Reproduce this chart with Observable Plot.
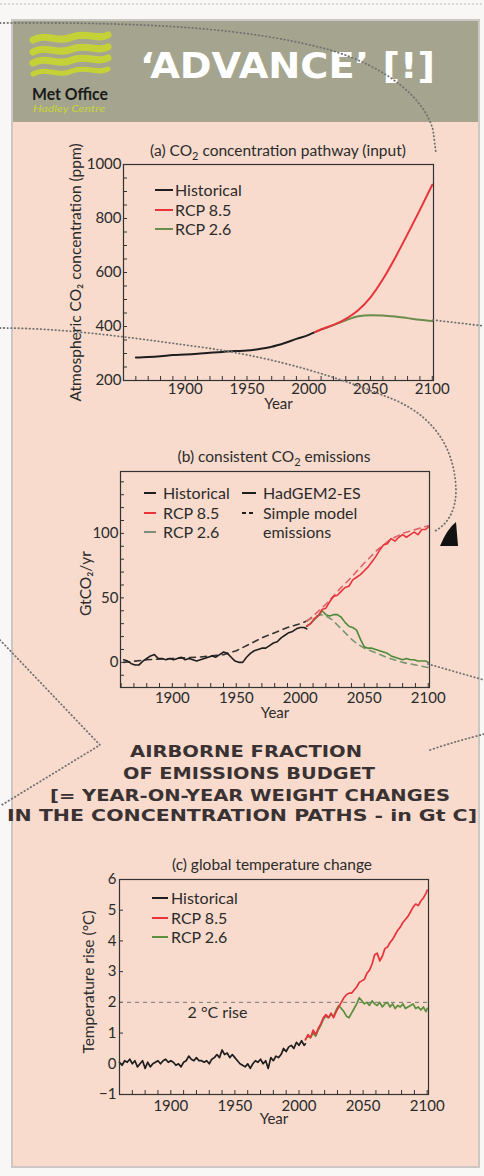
<!DOCTYPE html>
<html><head><meta charset="utf-8">
<script src="https://cdn.jsdelivr.net/npm/d3@7"></script>
<script src="https://cdn.jsdelivr.net/npm/@observablehq/plot@0.6"></script>
<style>
html,body{margin:0;padding:0;background:#f8f7f6;}
#page{position:relative;width:484px;height:1176px;overflow:hidden;font-family:Lato,"Open Sans",sans-serif;color:#2b2b2b;}
#panel{position:absolute;left:11px;top:19px;width:469px;height:1149px;box-sizing:border-box;background:#f8dbcd;border:2px solid #cbc7c3;}
#header{position:absolute;left:13px;top:21px;width:465px;height:101px;background:#a5a58f;}
.chart{position:absolute;}
#overlay{position:absolute;left:0;top:0;pointer-events:none;}
</style></head>
<body><div id="page"><div id="panel"></div><div id="header"></div>
<div id="chartA" class="chart" style="left:40px;top:150px"></div>
<div id="chartB" class="chart" style="left:40px;top:460px"></div>
<div id="chartC" class="chart" style="left:40px;top:870px"></div>
</div>
<script>
// ---------- data ----------
const xTickLabels = [1900, 1950, 2000, 2050, 2100];
const yTicksA = [200, 400, 600, 800, 1000];
const yTicksB = [0, 50, 100];
const yTicksC = [-1, 0, 1, 2, 3, 4, 5, 6];
const seriesNames = ["Historical", "RCP 8.5", "RCP 2.6"];
const legendB2 = ["HadGEM2-ES", "Simple model", "emissions"];
const twoDegreeThreshold = [2];
const twoDegreeLabel = "2 °C rise";

const co2Historical = [[1860,285],[1870,287],[1880,290],[1890,294],[1900,296],[1910,299],[1920,303],[1930,306],[1940,309],[1950,311],[1960,317],[1970,325],[1980,338],[1990,354],[2000,369],[2005,379]];
const co2Rcp85 = [[2005,379],[2010,389],[2020,406],[2030,428],[2040,460],[2050,508],[2060,575],[2070,655],[2080,742],[2090,832],[2100,925]];
const co2Rcp26 = [[2005,379],[2010,389],[2020,405],[2030,423],[2040,438],[2050,442],[2060,441],[2070,437],[2080,431],[2090,425],[2100,420]];

const emisHistorical = [[1862,2],[1865,1],[1868,-1],[1871,-2],[1874,-2],[1877,1],[1880,3],[1883,5],[1886,6],[1889,3],[1892,3],[1895,2],[1898,3],[1901,2],[1904,3],[1907,4],[1910,2],[1913,3],[1916,2],[1919,1],[1922,2],[1925,3],[1928,4],[1931,5],[1934,4],[1937,6],[1940,8],[1943,7],[1946,4],[1949,1],[1952,0],[1955,0],[1958,4],[1961,7],[1964,9],[1967,10],[1970,11],[1973,11],[1976,13],[1979,15],[1982,16],[1985,19],[1988,21],[1991,23],[1994,24],[1997,26],[2000,27],[2003,27],[2005,26]];
const emisRcp85 = [[2005,28],[2008,30],[2011,34],[2014,36],[2017,41],[2020,42],[2023,47],[2026,51],[2029,52],[2032,55],[2035,58],[2038,59],[2041,64],[2044,66],[2047,68],[2050,71],[2053,74],[2056,78],[2059,82],[2062,87],[2065,91],[2068,92],[2071,96],[2074,94],[2077,97],[2080,99],[2083,97],[2086,99],[2089,101],[2092,99],[2095,103],[2098,103],[2100,105]];
const emisRcp26 = [[2005,28],[2008,30],[2011,33],[2014,36],[2017,40],[2020,37],[2023,36],[2026,37],[2029,37],[2032,35],[2035,31],[2038,28],[2041,27],[2044,25],[2047,18],[2050,12],[2053,11],[2056,11],[2059,10],[2062,9],[2065,8],[2068,7],[2071,5],[2074,4],[2077,3],[2080,2],[2083,3],[2086,2],[2089,2],[2092,1],[2095,1],[2098,1],[2100,0]];
const simpleHistorical = [[1862,0],[1880,2],[1900,3],[1920,4],[1940,6],[1950,9],[1960,14],[1970,19],[1980,23],[1990,27],[2000,30],[2005,32]];
const simpleRcp85 = [[2005,32],[2010,36],[2020,45],[2030,56],[2040,66],[2050,77],[2060,87],[2070,95],[2080,100],[2090,103],[2100,106]];
const simpleRcp26 = [[2005,32],[2010,35],[2016,37],[2020,36],[2025,33],[2030,28],[2035,23],[2040,18],[2045,14],[2050,11],[2055,9],[2060,7],[2070,3],[2080,0],[2090,-2],[2100,-4]];

const tempHistorical = [[1860,0.05],[1862,-0.05],[1864,0.1],[1866,0.05],[1868,0.15],[1870,0.0],[1872,0.1],[1874,-0.1],[1876,0.0],[1878,0.1],[1880,-0.15],[1882,0.05],[1884,-0.1],[1886,0.0],[1888,0.05],[1890,0.1],[1892,0.0],[1894,0.1],[1896,0.15],[1898,0.05],[1900,0.1],[1902,0.05],[1904,-0.05],[1906,0.0],[1908,-0.1],[1910,0.05],[1912,0.1],[1914,0.25],[1916,0.15],[1918,0.1],[1920,0.2],[1922,0.1],[1924,0.1],[1926,0.05],[1928,0.1],[1930,0.0],[1932,0.15],[1934,0.2],[1936,0.3],[1938,0.2],[1940,0.45],[1942,0.3],[1944,0.35],[1946,0.2],[1948,0.3],[1950,0.2],[1952,0.1],[1954,0.0],[1956,-0.05],[1958,-0.1],[1960,0.0],[1962,-0.15],[1964,0.0],[1966,0.1],[1968,0.05],[1970,0.15],[1972,0.0],[1974,0.1],[1976,-0.15],[1978,0.2],[1980,0.1],[1982,0.25],[1984,0.2],[1986,0.3],[1988,0.5],[1990,0.4],[1992,0.55],[1994,0.6],[1996,0.5],[1998,0.7],[2000,0.6],[2002,0.75],[2004,0.6],[2005,0.65]];
const tempRcp85 = [[2005,0.78],[2007,0.95],[2009,0.85],[2011,1.1],[2013,0.95],[2015,1.15],[2017,1.3],[2019,1.5],[2021,1.6],[2023,1.5],[2025,1.65],[2027,1.5],[2029,1.7],[2031,1.85],[2033,2.0],[2035,2.15],[2037,2.25],[2039,2.3],[2041,2.3],[2043,2.4],[2045,2.5],[2047,2.65],[2049,2.7],[2051,2.75],[2053,2.95],[2055,3.05],[2057,3.25],[2059,3.55],[2061,3.6],[2063,3.35],[2065,3.5],[2067,3.75],[2069,3.8],[2071,3.95],[2073,4.05],[2075,4.2],[2077,4.35],[2079,4.45],[2081,4.6],[2083,4.7],[2085,4.8],[2087,4.95],[2089,5.1],[2091,5.2],[2093,5.15],[2095,5.3],[2097,5.4],[2099,5.55],[2100,5.65]];
const tempRcp26 = [[2005,0.8],[2007,0.9],[2009,0.85],[2011,1.0],[2013,0.9],[2015,1.1],[2017,1.25],[2019,1.45],[2021,1.55],[2023,1.5],[2025,1.6],[2027,1.55],[2029,1.75],[2031,1.9],[2033,1.8],[2035,1.7],[2037,1.55],[2039,1.5],[2041,1.65],[2043,1.8],[2045,1.95],[2047,2.15],[2049,2.05],[2051,1.95],[2053,2.0],[2055,1.9],[2057,2.05],[2059,1.95],[2061,1.9],[2063,2.0],[2065,1.85],[2067,1.95],[2069,2.0],[2071,1.85],[2073,1.95],[2075,1.8],[2077,1.9],[2079,1.85],[2081,1.95],[2083,1.8],[2085,1.85],[2087,1.9],[2089,1.95],[2091,1.8],[2093,1.85],[2095,1.75],[2097,1.85],[2099,1.7],[2100,1.8]];

// ---------- style ----------
const RED = "#e8333b", GREEN = "#5b8f3c", BLACK = "#1e1e1e", INK = "#2b2b2b";
const FONT = "Lato, 'Open Sans', sans-serif";

function frameTicks(xMinor, yMinor, innerW, innerH) {
  return [
    Plot.tickX(xMinor, {x: d => d, insetTop: innerH - 4, stroke: "#333", strokeWidth: 1}),
    Plot.tickY(yMinor, {y: d => d, insetRight: innerW - 4, stroke: "#333", strokeWidth: 1})
  ];
}
function line(data, stroke, extra = {}) {
  return Plot.line(data, {x: d => d[0], y: d => d[1], stroke, strokeWidth: 1.7, ...extra});
}
function yLabel(text, dx, dy) {
  return Plot.text([text], {frameAnchor: "left", textAnchor: "middle", lineAnchor: "middle", rotate: -90, dx, dy, fontSize: 15.5});
}
function xLabel(dy) {
  return Plot.text(["Year"], {frameAnchor: "bottom", textAnchor: "middle", lineAnchor: "middle", dy, fontSize: 15});
}
const fmt = d => String(d);

// ---------- chart (a) ----------
{
  const W = 420, H = 262, m = {l: 83, r: 27, t: 14, b: 32};
  const iw = W - m.l - m.r, ih = H - m.t - m.b;
  const p = Plot.plot({
    width: W, height: H, marginLeft: m.l, marginRight: m.r, marginTop: m.t, marginBottom: m.b,
    style: {background: "transparent", fontFamily: FONT, fontSize: "15px", color: INK, overflow: "visible"},
    x: {domain: [1850, 2101], ticks: xTickLabels, tickSize: 0, tickPadding: 3, tickFormat: fmt, label: null},
    y: {domain: [200, 1000], ticks: yTicksA, tickSize: 0, tickPadding: 2, tickFormat: fmt, label: null},
    marks: [
      ...frameTicks(d3.range(1860, 2101, 10), d3.range(200, 1001, 50), iw, ih),
      line(co2Historical, BLACK, {strokeWidth: 2, curve: "monotone-x"}),
      line(co2Rcp26, "#6b8c4c", {strokeWidth: 2, curve: "monotone-x"}),
      line(co2Rcp85, RED, {strokeWidth: 2, curve: "monotone-x"}),
      Plot.frame({stroke: "#333", strokeWidth: 1.2}),
      yLabel("Atmospheric CO₂ concentration (ppm)", -47, 0),
      xLabel(24)
    ]
  });
  document.getElementById("chartA").append(p);
}

// ---------- chart (b) ----------
{
  const W = 420, H = 260, m = {l: 80, r: 31, t: 11, b: 33};
  const iw = W - m.l - m.r, ih = H - m.t - m.b;
  const p = Plot.plot({
    width: W, height: H, marginLeft: m.l, marginRight: m.r, marginTop: m.t, marginBottom: m.b,
    style: {background: "transparent", fontFamily: FONT, fontSize: "15px", color: INK, overflow: "visible"},
    x: {domain: [1859.5, 2101], ticks: xTickLabels, tickSize: 0, tickPadding: 5, tickFormat: fmt, label: null},
    y: {domain: [-19.5, 148], ticks: yTicksB, tickSize: 0, tickPadding: 2, tickFormat: fmt, label: null},
    marks: [
      ...frameTicks(d3.range(1860, 2101, 10), d3.range(-10, 141, 10), iw, ih),
      line(simpleHistorical, "#333", {strokeDasharray: "6,5", strokeWidth: 1.6}),
      line(simpleRcp26, "#7a9474", {strokeDasharray: "6,5", strokeWidth: 1.6}),
      line(simpleRcp85, "#e0606a", {strokeDasharray: "6,5", strokeWidth: 1.6}),
      line(emisHistorical, BLACK, {strokeWidth: 1.6}),
      line(emisRcp26, "#4f8a3a", {strokeWidth: 1.6}),
      line(emisRcp85, RED, {strokeWidth: 1.6}),
      Plot.frame({stroke: "#333", strokeWidth: 1.2}),
      yLabel("GtCO₂/yr", -34, 4),
      xLabel(26)
    ]
  });
  document.getElementById("chartB").append(p);
}

// ---------- chart (c) ----------
{
  const W = 420, H = 260, m = {l: 79, r: 32, t: 9, b: 36};
  const iw = W - m.l - m.r, ih = H - m.t - m.b;
  const p = Plot.plot({
    width: W, height: H, marginLeft: m.l, marginRight: m.r, marginTop: m.t, marginBottom: m.b,
    style: {background: "transparent", fontFamily: FONT, fontSize: "15px", color: INK, overflow: "visible"},
    x: {domain: [1860, 2101], ticks: xTickLabels, tickSize: 0, tickPadding: 6, tickFormat: fmt, label: null},
    y: {domain: [-1, 6], ticks: yTicksC, tickSize: 0, tickPadding: 3, tickFormat: d => d < 0 ? "−" + Math.abs(d) : String(d), label: null},
    marks: [
      ...frameTicks(d3.range(1860, 2101, 10), yTicksC, iw, ih),
      Plot.ruleY(twoDegreeThreshold, {stroke: "#777", strokeDasharray: "4,4", strokeWidth: 1}),
      Plot.text(twoDegreeThreshold, {y: d => d, frameAnchor: "left", textAnchor: "middle", lineAnchor: "middle", dx: 98, dy: 11, text: () => twoDegreeLabel, fontSize: 16}),
      line(tempHistorical, BLACK, {strokeWidth: 1.7}),
      line(tempRcp26, GREEN, {strokeWidth: 1.7}),
      line(tempRcp85, RED, {strokeWidth: 1.7}),
      Plot.frame({stroke: "#333", strokeWidth: 1.2}),
      yLabel("Temperature rise (°C)", -30, -5),
      xLabel(25)
    ]
  });
  document.getElementById("chartC").append(p);
}

// ---------- overlay: header, titles, legends, annotations ----------
const svg = d3.select("#page").append("svg").attr("id", "overlay").attr("width", 484).attr("height", 1176);

svg.append("line").attr("x1", 0).attr("x2", 484).attr("y1", 4).attr("y2", 4)
  .attr("stroke", "#d9d9d9").attr("stroke-width", 2).attr("stroke-dasharray", "2,2");

// logo waves
[37, 49, 60, 71].forEach((y, i) => {
  svg.append("path")
    .attr("d", `M33,${y + 3} C46,${y - 5} 58,${y + 7} 72,${y} C86,${y - 6} 97,${y + 4} 108,${y - 2}`)
    .attr("fill", "none").attr("stroke", "#c9d72e").attr("stroke-width", i === 3 ? 5 : 7).attr("stroke-linecap", "round").attr("opacity", 0.9);
});
svg.append("text").attr("x", 32).attr("y", 100).attr("font-family", FONT).attr("font-weight", 700)
  .attr("font-size", 17).attr("fill", "#1a1a1a").attr("textLength", 76).attr("lengthAdjust", "spacingAndGlyphs").text("Met Office");
svg.append("text").attr("x", 33).attr("y", 112).attr("font-family", FONT).attr("font-style", "italic")
  .attr("font-size", 9).attr("fill", "#c9d33a").attr("textLength", 72).attr("lengthAdjust", "spacingAndGlyphs").text("Hadley Centre");
svg.append("text").attr("x", 140).attr("y", 78).attr("font-family", "'DejaVu Sans', sans-serif").attr("font-weight", 700)
  .attr("font-size", 36).attr("fill", "#ffffff").attr("textLength", 295).attr("lengthAdjust", "spacingAndGlyphs").text("‘ADVANCE’ [!]");

// chart titles with subscript
function title(x, y, pre, post) {
  const t = svg.append("text").attr("x", x).attr("y", y).attr("text-anchor", "middle")
    .attr("font-family", FONT).attr("font-size", 15.5).attr("fill", INK);
  t.append("tspan").text(pre);
  if (post !== undefined) {
    t.append("tspan").attr("font-size", 11).attr("dy", 4).text("2");
    t.append("tspan").attr("dy", -4).text(post);
  }
}
title(278, 156, "(a) CO", " concentration pathway (input)");
title(274, 462, "(b) consistent CO", " emissions");
title(272, 870, "(c) global temperature change");

// legends
function legend(x1, x2, tx, ys, colors, labels, dash) {
  ys.forEach((y, i) => {
    if (colors[i]) svg.append("line").attr("x1", x1).attr("x2", x2).attr("y1", y).attr("y2", y)
      .attr("stroke", colors[i]).attr("stroke-width", 2).attr("stroke-dasharray", dash && dash[i] ? dash[i] : null);
    svg.append("text").attr("x", tx).attr("y", y + 5.5).attr("font-family", FONT).attr("font-size", 16).attr("fill", INK).text(labels[i]);
  });
}
legend(155, 173, 175, [190, 210, 229], [BLACK, RED, "#6b8c4c"], seriesNames);
legend(144, 156, 163, [493, 513, 532], [BLACK, RED, "#7f8f78"], seriesNames);
legend(242, 256, 263, [493, 513, 532], [BLACK, BLACK, null], legendB2, [null, "4,3", null]);
legend(152, 168, 171, [898, 918, 937], [BLACK, RED, GREEN], seriesNames);

// central caption
const captionLines = ["AIRBORNE FRACTION", "OF EMISSIONS BUDGET", "[= YEAR-ON-YEAR WEIGHT CHANGES", "IN THE CONCENTRATION PATHS - in Gt C]"];
const capX = [130, 123, 50, 7], capW = [232, 252, 400, 470], capY = [757, 779, 801, 821];
captionLines.forEach((s, i) => {
  svg.append("text").attr("x", capX[i]).attr("y", capY[i]).attr("font-family", "'DejaVu Sans', sans-serif")
    .attr("font-weight", 700).attr("font-size", 16).attr("fill", "#3a3232")
    .attr("textLength", capW[i]).attr("lengthAdjust", "spacingAndGlyphs").text(s);
});

// decorative dotted connectors
const dotted = [
  "M0,23 C150,22 250,28 330,50 C390,68 425,100 433,130 L436,153",
  "M0,328 C60,328 120,336 200,347 C280,358 340,378 395,400 C440,420 455,455 456,490 C456,510 448,525 433,532",
  "M433,320 L484,326",
  "M428,664 L484,680",
  "M430,750 C450,743 470,738 484,734",
  "M0,640 L100,745 L0,806"
];
dotted.forEach(d => svg.append("path").attr("d", d).attr("fill", "none").attr("stroke", "#707070")
  .attr("stroke-width", 1.8).attr("stroke-linecap", "round").attr("stroke-dasharray", "0.5,3.2"));
svg.append("path").attr("d", "M440,546 L458,546 L456,522 Q447,529 440,546 Z").attr("fill", "#111");
</script>
</body></html>
